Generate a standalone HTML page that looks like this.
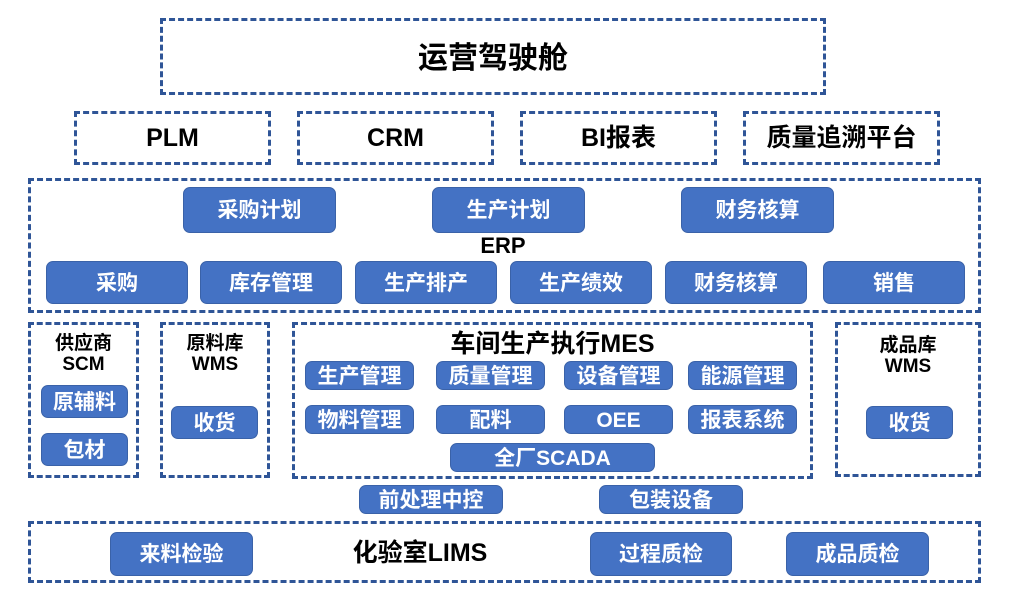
<!DOCTYPE html>
<html><head><meta charset="utf-8"><style>
body{margin:0;width:1011px;height:599px;background:#fff;position:relative;overflow:hidden;font-family:"Liberation Sans","Noto Sans CJK SC",sans-serif;font-weight:bold;}
.d{position:absolute;box-sizing:border-box;border:3px dashed #2f5597;}
.b{position:absolute;box-sizing:border-box;background:#4472c4;border:1px solid #3a62a8;border-radius:7px;color:#fff;display:flex;align-items:center;justify-content:center;font-size:21px;line-height:1;padding-top:1px;}
.t{position:absolute;color:#000;text-align:center;display:flex;align-items:center;justify-content:center;line-height:1.1;}
</style></head><body>
<div class="d t" style="left:160px;top:18px;width:666px;height:77px;font-size:30px;padding-top:4px">运营驾驶舱</div>
<div class="d t" style="left:74px;top:111px;width:197px;height:54px;font-size:25px;padding-top:2px">PLM</div>
<div class="d t" style="left:297px;top:111px;width:197px;height:54px;font-size:25px;padding-top:2px">CRM</div>
<div class="d t" style="left:520px;top:111px;width:197px;height:54px;font-size:25px;padding-top:2px">BI报表</div>
<div class="d t" style="left:743px;top:111px;width:197px;height:54px;font-size:25px;padding-top:2px">质量追溯平台</div>

<div class="d" style="left:28px;top:178px;width:953px;height:135px"></div>
<div class="b" style="left:183px;top:187px;width:153px;height:46px">采购计划</div>
<div class="b" style="left:432px;top:187px;width:153px;height:46px">生产计划</div>
<div class="b" style="left:681px;top:187px;width:153px;height:46px">财务核算</div>
<div class="t" style="left:453px;top:232px;width:100px;height:28px;font-size:22px">ERP</div>
<div class="b" style="left:46px;top:261px;width:142px;height:43px">采购</div>
<div class="b" style="left:200px;top:261px;width:142px;height:43px">库存管理</div>
<div class="b" style="left:355px;top:261px;width:142px;height:43px">生产排产</div>
<div class="b" style="left:510px;top:261px;width:142px;height:43px">生产绩效</div>
<div class="b" style="left:665px;top:261px;width:142px;height:43px">财务核算</div>
<div class="b" style="left:823px;top:261px;width:142px;height:43px">销售</div>

<div class="d" style="left:28px;top:322px;width:111px;height:156px"></div>
<div class="t" style="left:28px;top:331px;width:111px;height:48px;font-size:19px">供应商<br>SCM</div>
<div class="b" style="left:41px;top:385px;width:87px;height:33px">原辅料</div>
<div class="b" style="left:41px;top:433px;width:87px;height:33px">包材</div>

<div class="d" style="left:160px;top:322px;width:110px;height:156px"></div>
<div class="t" style="left:160px;top:331px;width:110px;height:48px;font-size:19px">原料库<br>WMS</div>
<div class="b" style="left:171px;top:406px;width:87px;height:33px">收货</div>

<div class="d" style="left:292px;top:322px;width:521px;height:157px"></div>
<div class="t" style="left:292px;top:330px;width:521px;height:30px;font-size:25px">车间生产执行MES</div>
<div class="b" style="left:305px;top:361px;width:109px;height:29px">生产管理</div>
<div class="b" style="left:436px;top:361px;width:109px;height:29px">质量管理</div>
<div class="b" style="left:564px;top:361px;width:109px;height:29px">设备管理</div>
<div class="b" style="left:688px;top:361px;width:109px;height:29px">能源管理</div>
<div class="b" style="left:305px;top:405px;width:109px;height:29px">物料管理</div>
<div class="b" style="left:436px;top:405px;width:109px;height:29px">配料</div>
<div class="b" style="left:564px;top:405px;width:109px;height:29px">OEE</div>
<div class="b" style="left:688px;top:405px;width:109px;height:29px">报表系统</div>
<div class="b" style="left:450px;top:443px;width:205px;height:29px">全厂SCADA</div>

<div class="d" style="left:835px;top:322px;width:146px;height:155px"></div>
<div class="t" style="left:835px;top:333px;width:146px;height:48px;font-size:19px">成品库<br>WMS</div>
<div class="b" style="left:866px;top:406px;width:87px;height:33px">收货</div>

<div class="b" style="left:359px;top:485px;width:144px;height:29px">前处理中控</div>
<div class="b" style="left:599px;top:485px;width:144px;height:29px">包装设备</div>

<div class="d" style="left:28px;top:521px;width:953px;height:62px"></div>
<div class="t" style="left:310px;top:538px;width:220px;height:32px;font-size:25px">化验室LIMS</div>
<div class="b" style="left:110px;top:532px;width:143px;height:44px">来料检验</div>
<div class="b" style="left:590px;top:532px;width:142px;height:44px">过程质检</div>
<div class="b" style="left:786px;top:532px;width:143px;height:44px">成品质检</div>
</body></html>
